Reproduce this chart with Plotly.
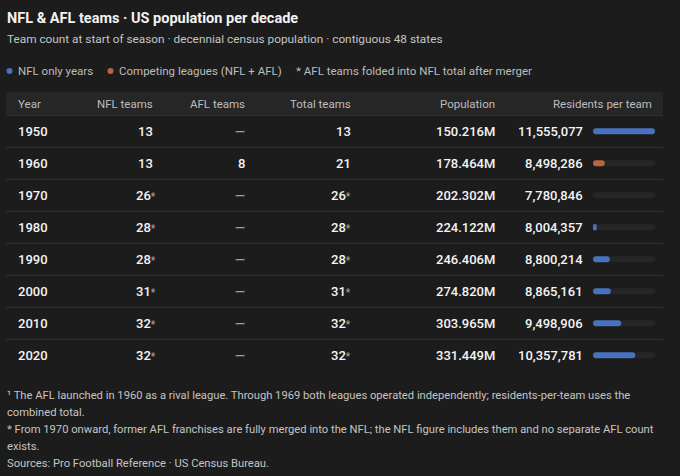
import plotly.graph_objs as go

years = [1950, 1960, 1970, 1980, 1990, 2000, 2010, 2020]
nfl_teams = [13, 13, 26, 28, 28, 31, 32, 32]
afl_teams = [None, 8, None, None, None, None, None, None]
total_teams = [13, 21, 26, 28, 28, 31, 32, 32]
population_m = [150.216, 178.464, 202.302, 224.122, 246.406, 274.820, 303.965, 331.449]
residents_per_team = [11555077, 8498286, 7780846, 8004357, 8800214, 8865161, 9498906, 10357781]
merged = [False, False, True, True, True, True, True, True]

columns = ['Year', 'NFL teams', 'AFL teams', 'Total teams', 'Population', 'Residents per team']

W, H = 680, 476
BG = '#1c1c1c'
HEADER_BG = '#262626'
LINE = '#333333'
BLUE = '#4a70c0'
ORANGE = '#b8643f'
TRACK = '#262626'
FONT = 'Roboto'


def px(x):
    return x / W


def py(y):
    return 1 - y / H


lo = min(residents_per_team)
hi = max(residents_per_team)
bar_colors = [ORANGE if a is not None else BLUE for a in afl_teams]

fig = go.Figure()

# background track for each row
fig.add_trace(go.Bar(
    y=years, x=[hi - lo] * len(years), base=lo,
    orientation='h', marker=dict(color=TRACK, cornerradius=3, line_width=0),
    width=1.9, hoverinfo='skip', showlegend=False))

# residents per team bars
fig.add_trace(go.Bar(
    y=years, x=[v - lo for v in residents_per_team], base=lo,
    orientation='h', marker=dict(color=bar_colors, cornerradius=3, line_width=0),
    width=1.9, showlegend=False,
    customdata=residents_per_team,
    hovertemplate='%{y}: %{customdata:,}<extra></extra>'))

annotations = []


def note(text, x, y, size, color, xanchor='left', yref='paper', weight=None):
    f = dict(family=FONT, size=size, color=color)
    if weight:
        f['weight'] = weight
    annotations.append(dict(text=text, x=x, y=y, xref='paper', yref=yref,
                            xanchor=xanchor, yanchor='middle', showarrow=False,
                            font=f))


# title block
note('<b>NFL & AFL teams · US population per decade</b>', px(5), py(19), 14.5, '#f2f2f2')
note('Team count at start of season · decennial census population · contiguous 48 states',
     px(5), py(39), 11.8, '#c4c4c4')
note('NFL only years', px(16), py(71), 11.5, '#bdbdbd')
note('Competing leagues (NFL + AFL)', px(117), py(71), 11.5, '#bdbdbd')
note('* AFL teams folded into NFL total after merger', px(294), py(71), 11.5, '#bdbdbd')

# header row
header_x = [16, 155, 247, 353, 497, 654]
for i, (name, x) in enumerate(zip(columns, header_x)):
    note(name, px(x), py(103.5), 11.5, '#bdbdbd', xanchor='left' if i == 0 else 'right')

star = "<span style='font-size:10px;color:#a0a0a0'>*</span>"
for yr, n, a, t, p, r, m in zip(years, nfl_teams, afl_teams, total_teams,
                                  population_m, residents_per_team, merged):
    note(str(yr), px(16), yr, 13, '#f4f4f4', yref='y', weight=500)
    note(str(n) + (star if m else ''), px(155 + (3 if m else 0)), yr, 13, '#f4f4f4',
         xanchor='right', yref='y', weight=500)
    note(str(a) if a is not None else '—', px(247), yr, 13,
         '#f4f4f4' if a is not None else '#a0a0a0', xanchor='right', yref='y', weight=500)
    note(str(t) + (star if m else ''), px(353), yr, 13, '#f4f4f4',
         xanchor='right', yref='y', weight=500)
    note('%.3fM' % p, px(497), yr, 13, '#f4f4f4', xanchor='right', yref='y', weight=500)
    note('{:,}'.format(r), px(585), yr, 13, '#f4f4f4', xanchor='right', yref='y', weight=500)

# footnotes
footnotes = [
    '¹ The AFL launched in 1960 as a rival league. Through 1969 both leagues operated independently; residents-per-team uses the',
    'combined total.',
    '* From 1970 onward, former AFL franchises are fully merged into the NFL; the NFL figure includes them and no separate AFL count',
    'exists.',
    'Sources: Pro Football Reference · US Census Bureau.',
]
for i, line in enumerate(footnotes):
    note(line, px(5), py(395 + i * 17.2), 11.2, '#c4c4c4')

# legend dots
shapes = [
    dict(type='circle', xref='paper', yref='paper', x0=px(6.5), x1=px(12.5),
         y0=py(74), y1=py(68), fillcolor=BLUE, line_width=0),
    dict(type='circle', xref='paper', yref='paper', x0=px(107.5), x1=px(113.5),
         y0=py(74), y1=py(68), fillcolor=ORANGE, line_width=0),
]
shapes.append(dict(type='rect', xref='paper', yref='paper', x0=px(6), x1=px(663),
                   y0=py(115.5), y1=py(92), fillcolor=HEADER_BG, line_width=0, layer='below'))
shapes.append(dict(type='line', xref='paper', yref='y', x0=px(6), x1=px(663),
                   y0=1945, y1=1945, line=dict(color='#3a3a3a', width=1)))
for yr in years[:-1]:
    shapes.append(dict(type='line', xref='paper', yref='y', x0=px(6), x1=px(663),
                       y0=yr + 5, y1=yr + 5, line=dict(color=LINE, width=1)))

fig.update_layout(
    width=W, height=H,
    margin=dict(l=0, r=0, t=0, b=0),
    paper_bgcolor=BG, plot_bgcolor=BG,
    barmode='overlay',
    font_family=FONT,
    xaxis=dict(domain=[px(593), px(655)], range=[lo, hi], visible=False, fixedrange=True),
    yaxis=dict(domain=[py(371.3), py(115.3)], range=[2025, 1945], visible=False, fixedrange=True),
    annotations=annotations,
    shapes=shapes,
)

# drop the default page margin so the figure fills the window
fig.write_html("out.html", config={'displayModeBar': False},
               post_script="document.body.style.margin='0';")
